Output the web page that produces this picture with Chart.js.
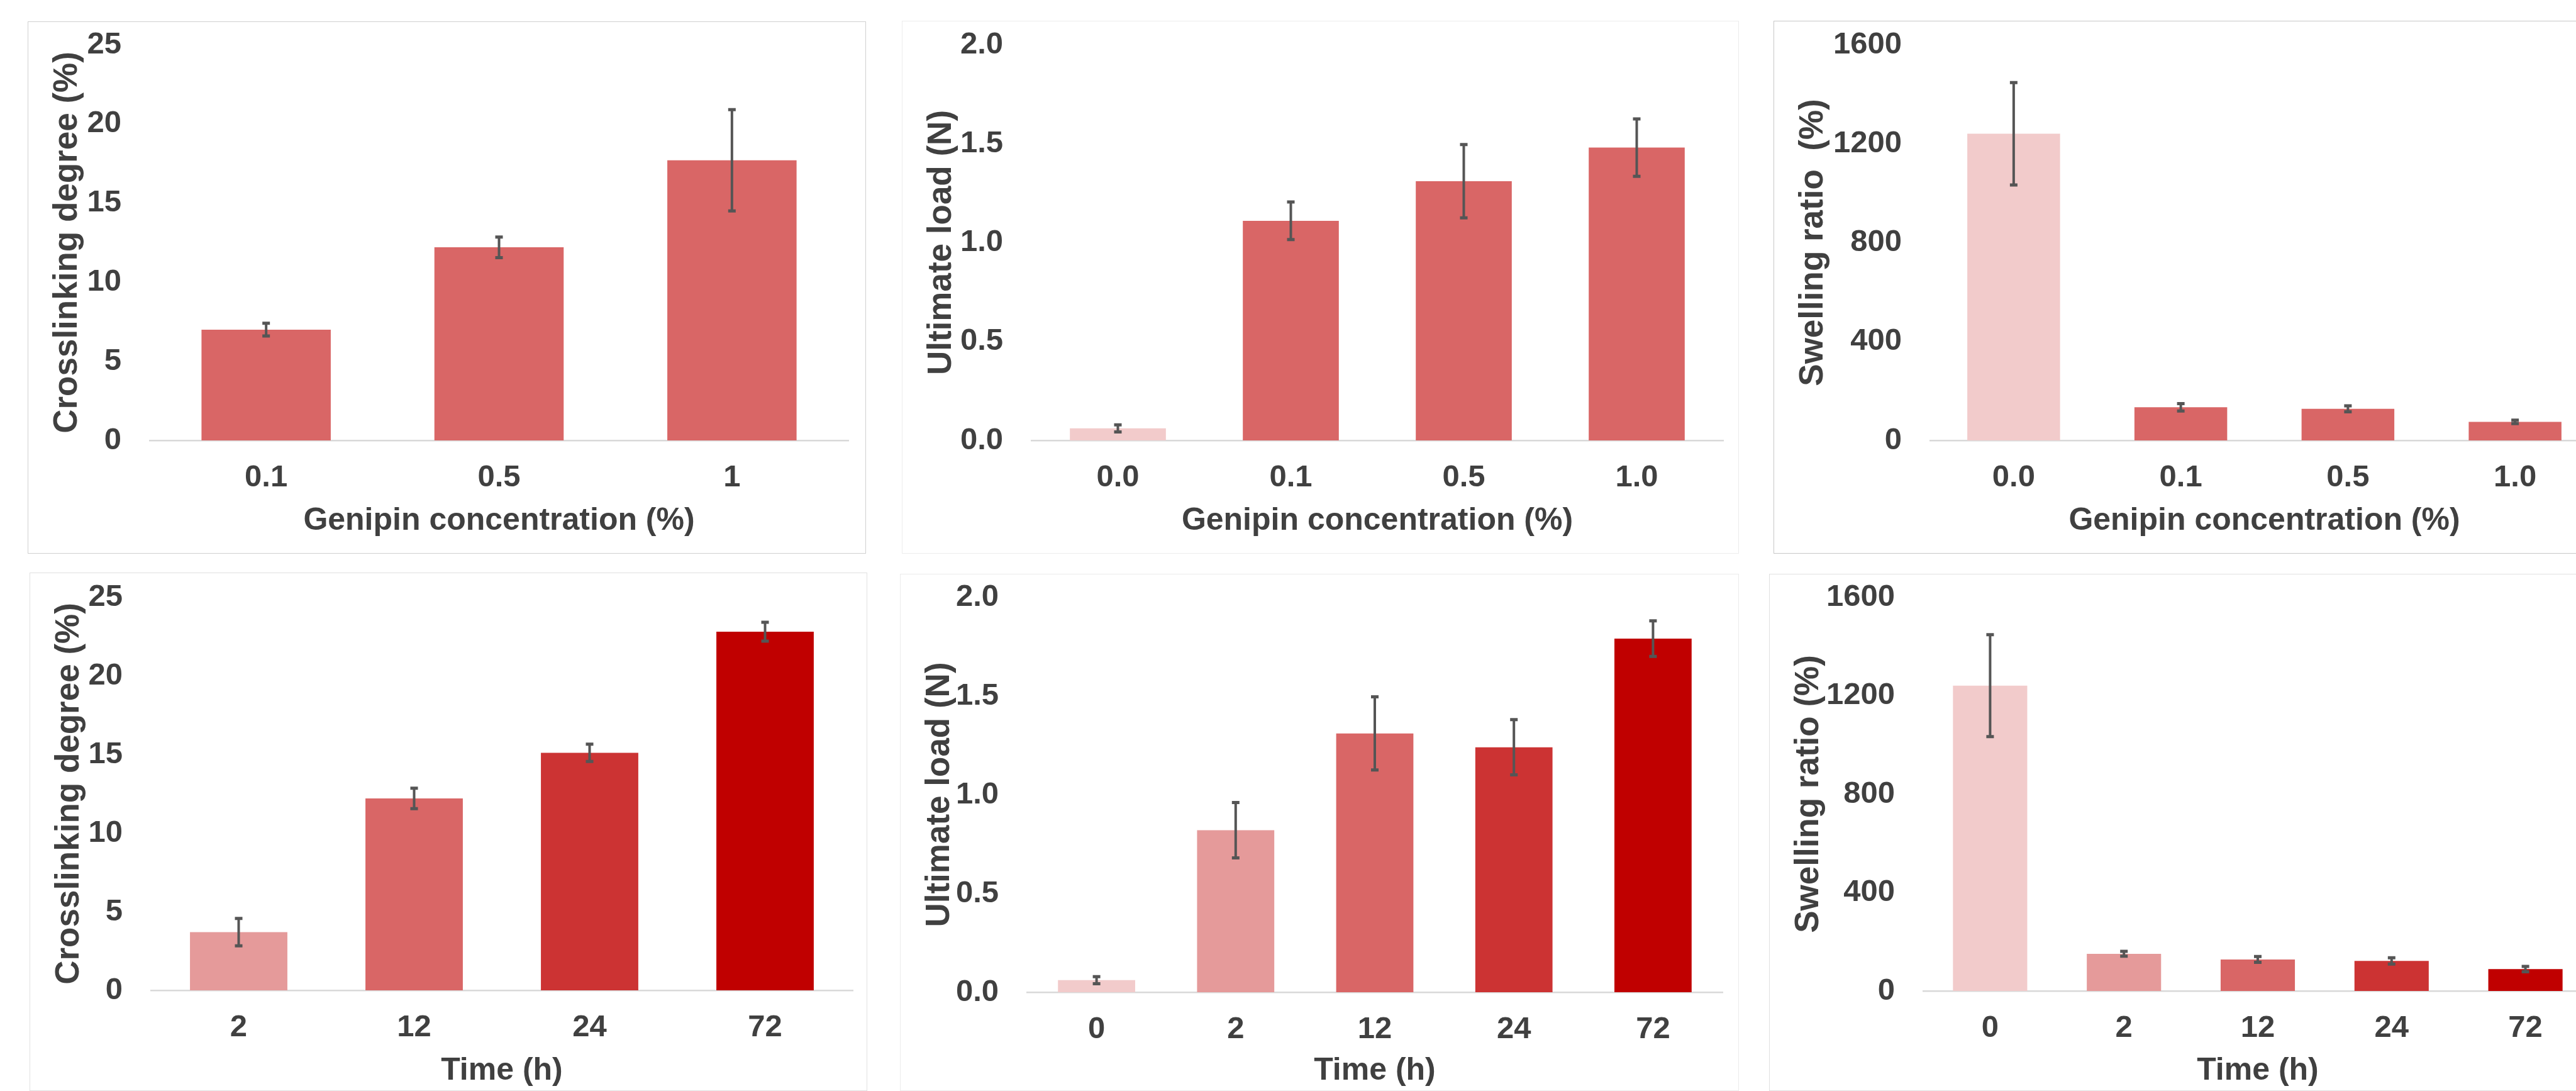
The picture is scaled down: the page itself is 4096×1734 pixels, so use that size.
<!DOCTYPE html>
<html>
<head>
<meta charset="utf-8">
<script src="https://cdn.jsdelivr.net/npm/chart.js@4.4.1/dist/chart.umd.min.js"></script>
<style>
  html, body { margin: 0; padding: 0; background: #fff; width: 4096px; height: 1734px; overflow: hidden; }
  .frame { position: absolute; box-sizing: border-box; border: 1.5px solid #d9d9d9; }
  canvas { position: absolute; }
</style>
</head>
<body>
<script>
// categories
const concLabels = ['0.1', '0.5', '1'];
const concLabels4 = ['0.0', '0.1', '0.5', '1.0'];
const timeLabels = ['2', '12', '24', '72'];
const timeLabels5 = ['0', '2', '12', '24', '72'];

// top row: genipin concentration
const crossConc = [7.0, 12.2, 17.7];
const crossConcErr = [0.4, 0.65, 3.2];
const loadConc = [0.061, 1.11, 1.31, 1.48];
const loadConcErr = [0.018, 0.095, 0.185, 0.145];
const swellConc = [1240, 134, 128, 75];
const swellConcErr = [207, 15, 12, 7];

// bottom row: crosslinking time
const crossTime = [3.7, 12.2, 15.1, 22.8];
const crossTimeErr = [0.87, 0.65, 0.55, 0.6];
const loadTime = [0.061, 0.82, 1.31, 1.24, 1.79];
const loadTimeErr = [0.018, 0.14, 0.185, 0.14, 0.09];
const swellTime = [1240, 151, 128, 122, 89];
const swellTimeErr = [207, 10, 12, 13, 11];

// y axes: max and step
const crossTicks = [25, 5];
const loadTicks = [2, 0.5];
const swellTicks = [1600, 400];

const pink0 = '#F2CBCB', pink1 = '#E59A9A', red2 = '#D96666', red3 = '#CC3333', red4 = '#C00000';
const TEXT = '#404040';
const FONT = "'Liberation Sans', Arial, sans-serif";
const TOP_PAD = 80; // room above the plot for the top tick label

const errorBarPlugin = {
  id: 'errorBars',
  afterDatasetsDraw(chart, args, opts) {
    const errs = opts.errors || [];
    const meta = chart.getDatasetMeta(0);
    const yScale = chart.scales.y;
    const vals = chart.data.datasets[0].data;
    const ctx = chart.ctx;
    ctx.save();
    ctx.strokeStyle = '#555555';
    meta.data.forEach((bar, i) => {
      const top = yScale.getPixelForValue(vals[i] + errs[i]);
      const bot = yScale.getPixelForValue(vals[i] - errs[i]);
      ctx.lineWidth = 4;
      ctx.beginPath();
      ctx.moveTo(bar.x, top);
      ctx.lineTo(bar.x, bot);
      ctx.stroke();
      ctx.lineWidth = 5;
      ctx.beginPath();
      ctx.moveTo(bar.x - 6, top); ctx.lineTo(bar.x + 6, top);
      ctx.moveTo(bar.x - 6, bot); ctx.lineTo(bar.x + 6, bot);
      ctx.stroke();
    });
    ctx.restore();
  }
};

function makePanel(box, labels, values, errors, colors, ticks, yTitle, xTitle, decimals) {
  const frame = document.createElement('div');
  frame.className = 'frame';
  frame.style.left = box.x + 'px';
  frame.style.top = box.y + 'px';
  frame.style.width = box.w + 'px';
  frame.style.height = box.h + 'px';
  frame.style.borderColor = box.border;
  document.body.appendChild(frame);

  const canvasTop = box.plotTop - TOP_PAD;
  const canvas = document.createElement('canvas');
  canvas.width = box.w;
  canvas.height = box.y + box.h - canvasTop;
  canvas.style.left = box.x + 'px';
  canvas.style.top = canvasTop + 'px';
  document.body.appendChild(canvas);

  return new Chart(canvas, {
    type: 'bar',
    data: {
      labels: labels,
      datasets: [{
        data: values,
        backgroundColor: colors,
        borderWidth: 0,
        categoryPercentage: 1,
        barPercentage: 0.555
      }]
    },
    options: {
      responsive: false,
      animation: false,
      devicePixelRatio: 1,
      layout: { padding: { top: TOP_PAD, right: box.padRight, left: 0, bottom: 0 } },
      plugins: {
        legend: { display: false },
        tooltip: { enabled: false },
        errorBars: { errors: errors }
      },
      scales: {
        x: {
          grid: { display: false, drawTicks: false },
          border: { display: true, color: '#D9D9D9', width: 2.5 },
          ticks: { color: TEXT, font: { family: FONT, size: 49, weight: 'bold' }, padding: 30 },
          title: {
            display: true, text: xTitle, color: TEXT,
            font: { family: FONT, size: 50, weight: 'bold' },
            padding: { top: 0, bottom: box.titleBottom }
          },
          afterFit(scale) { scale.height = box.xHeight; }
        },
        y: {
          min: 0, max: ticks[0],
          grid: { display: false, drawTicks: false },
          border: { display: false },
          ticks: {
            stepSize: ticks[1], color: TEXT, padding: 45,
            font: { family: FONT, size: 49, weight: 'bold' },
            callback: (v) => v.toFixed(decimals)
          },
          title: {
            display: true, text: yTitle, color: TEXT,
            font: { family: FONT, size: 53, weight: 'bold' },
            padding: { top: 32, bottom: 0 }
          },
          afterFit(scale) { scale.width = box.yWidth; }
        }
      }
    },
    plugins: [errorBarPlugin]
  });
}

const boxes = {
  tl: { x: 44, y: 34, w: 1333, h: 846, plotTop: 71, padRight: 28, yWidth: 194, xHeight: 180, titleBottom: 22, border: '#D0D0D0' },
  tm: { x: 1434, y: 33, w: 1331, h: 847, plotTop: 71, padRight: 25, yWidth: 206, xHeight: 180, titleBottom: 22, border: '#ECECEC' },
  tr: { x: 2820, y: 33, w: 1340, h: 847, plotTop: 71, padRight: 28, yWidth: 249, xHeight: 180, titleBottom: 22, border: '#C8C8C8' },
  bl: { x: 47, y: 910, w: 1332, h: 824, plotTop: 949, padRight: 23, yWidth: 193, xHeight: 160, titleBottom: 2, border: '#E0E0E0' },
  bm: { x: 1431, y: 912, w: 1334, h: 822, plotTop: 949, padRight: 26, yWidth: 202, xHeight: 157, titleBottom: 2, border: '#ECECEC' },
  br: { x: 2813, y: 912, w: 1347, h: 822, plotTop: 949, padRight: 38, yWidth: 245, xHeight: 159, titleBottom: 2, border: '#E0E0E0' }
};

makePanel(boxes.tl, concLabels, crossConc, crossConcErr, [red2, red2, red2],
  crossTicks, 'Crosslinking degree (%)', 'Genipin concentration (%)', 0);
makePanel(boxes.tm, concLabels4, loadConc, loadConcErr, [pink0, red2, red2, red2],
  loadTicks, 'Ultimate load (N)', 'Genipin concentration (%)', 1);
makePanel(boxes.tr, concLabels4, swellConc, swellConcErr, [pink0, red2, red2, red2],
  swellTicks, 'Swelling ratio  (%)', 'Genipin concentration (%)', 0);
makePanel(boxes.bl, timeLabels, crossTime, crossTimeErr, [pink1, red2, red3, red4],
  crossTicks, 'Crosslinking degree (%)', 'Time (h)', 0);
makePanel(boxes.bm, timeLabels5, loadTime, loadTimeErr, [pink0, pink1, red2, red3, red4],
  loadTicks, 'Ultimate load (N)', 'Time (h)', 1);
makePanel(boxes.br, timeLabels5, swellTime, swellTimeErr, [pink0, pink1, red2, red3, red4],
  swellTicks, 'Swelling ratio (%)', 'Time (h)', 0);
</script>
</body>
</html>
